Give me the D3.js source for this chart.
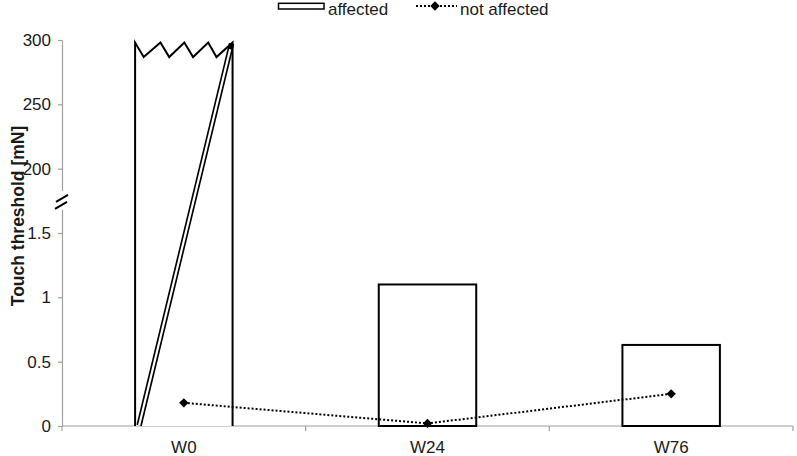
<!DOCTYPE html>
<html>
<head>
<meta charset="utf-8">
<script src="https://cdn.jsdelivr.net/npm/d3@7"></script>
<style>
  html, body { margin: 0; padding: 0; background: #fff; }
  svg { display: block; font-family: "Liberation Sans", Arial, sans-serif; }
</style>
</head>
<body>
<svg id="chart" width="797" height="456"></svg>
<script>
// ---- data ----
const categories = ["W0", "W24", "W76"];
const affected = [298, 1.1, 0.63];
const notAffected = [0.18, 0.02, 0.25];
const yTickValues = [0, 0.5, 1, 1.5, 200, 250, 300];
const yTickLabels = ["0", "0.5", "1", "1.5", "200", "250", "300"];
const seriesNames = ["affected", "not affected"];
const yTitle = "Touch threshold [mN]";

(function () {
// ---- layout ----
const svg = d3.select("#chart");
const mLeft = 62, mRight = 793, mBottom = 426, mTop = 40;
const textColor = "#1a1a1a", axisColor = "#a0a0a0";

// positions equally spaced per tick index (axis with a break between 1.5 and 200)
const idx = d3.scaleLinear().domain([0, yTickValues.length - 1]).range([mBottom, mTop]);
const y = d3.scaleLinear().domain(yTickValues).range(yTickValues.map((_, i) => idx(i)));
const x = d3.scaleBand().domain(categories).range([mLeft, mRight]).padding(0);
const bw = x.bandwidth() * 0.4;
const bx = c => x(c) + (x.bandwidth() - bw) / 2;
const cx = c => x(c) + x.bandwidth() / 2;

// ---- y axis ----
const yAxis = svg.append("g").attr("transform", `translate(${mLeft},0)`)
  .call(d3.axisLeft(y).tickValues(yTickValues)
    .tickFormat((d, i) => yTickLabels[i]).tickSize(4).tickSizeOuter(0).tickPadding(7));
yAxis.select(".domain").attr("stroke", axisColor).attr("stroke-width", 1.2);
yAxis.selectAll(".tick line").attr("stroke", axisColor).attr("stroke-width", 1.2);
yAxis.selectAll(".tick text").attr("fill", textColor).style("font-size", "17px");

// break in axis
const breakY = (y(1.5) + y(200)) / 2;
svg.append("rect").attr("x", mLeft - 3).attr("y", breakY - 10).attr("width", 6).attr("height", 19).attr("fill", "#fff");
[0, 7].forEach(o => {
  svg.append("line")
    .attr("x1", mLeft - 6 - (o ? 1 : 0)).attr("y1", breakY + 1 + o)
    .attr("x2", mLeft + 6 - (o ? 1 : 0)).attr("y2", breakY - 6 + o)
    .attr("stroke", "#000").attr("stroke-width", 2);
});

// y title
svg.append("text")
  .attr("transform", `translate(23.5,216) rotate(-90)`)
  .attr("text-anchor", "middle")
  .attr("fill", textColor)
  .style("font-size", "17.5px").style("font-weight", "bold")
  .text(yTitle);

// ---- x axis ----
svg.append("line").attr("x1", mLeft).attr("x2", mRight).attr("y1", mBottom).attr("y2", mBottom)
  .attr("stroke", axisColor).attr("stroke-width", 1.2);
const edges = categories.map(c => x(c)).concat([x(categories[categories.length - 1]) + x.bandwidth()]);
svg.selectAll(".xedge").data(edges).join("line").attr("class", "xedge")
  .attr("x1", d => d).attr("x2", d => d).attr("y1", mBottom).attr("y2", mBottom + 5)
  .attr("stroke", axisColor).attr("stroke-width", 1.2);
const xAxis = svg.append("g").attr("transform", `translate(0,${mBottom})`)
  .call(d3.axisBottom(x).tickSize(0).tickPadding(15));
xAxis.select(".domain").remove();
xAxis.selectAll(".tick text").attr("fill", textColor).style("font-size", "17px");

// ---- bars ----
const zig = [[0, 0], [0.088, 1], [0.26, 0], [0.35, 1], [0.505, 0], [0.595, 1], [0.75, 0], [0.835, 1], [1, 0]];
const depth = 14.5;
categories.forEach((c, i) => {
  const x0 = bx(c), yt = y(affected[i]);
  if (affected[i] >= 200) {
    let p = `M${x0},${mBottom}L${x0},${yt}`;
    zig.forEach(([f, v]) => { p += `L${x0 + f * bw},${yt + v * depth}`; });
    p += `L${x0 + bw},${mBottom}`;
    svg.append("path").attr("d", p).attr("fill", "#fff").attr("stroke", "#000").attr("stroke-width", 2).attr("stroke-linejoin", "miter");
    // double diagonal line (black band with white core)
    const p0 = [x0 + 4, mBottom - 0.5], p1 = [x0 + bw - 1, yt + 1];
    const lerp = t => [p0[0] + (p1[0] - p0[0]) * t, p0[1] + (p1[1] - p0[1]) * t];
    svg.append("line").attr("x1", p0[0]).attr("y1", p0[1]).attr("x2", p1[0]).attr("y2", p1[1])
      .attr("stroke", "#000").attr("stroke-width", 5.5);
    const q1 = lerp(0.985);
    svg.append("line").attr("x1", p0[0]).attr("y1", p0[1]).attr("x2", q1[0]).attr("y2", q1[1])
      .attr("stroke", "#fff").attr("stroke-width", 2.2);
  } else {
    svg.append("rect").attr("x", x0).attr("y", yt).attr("width", bw).attr("height", mBottom - yt)
      .attr("fill", "#fff").attr("stroke", "#000").attr("stroke-width", 2);
  }
});

// ---- line series ----
const line = d3.line().x((d, i) => cx(categories[i])).y(d => y(d));
svg.append("path").attr("d", line(notAffected)).attr("fill", "none")
  .attr("stroke", "#000").attr("stroke-width", 2).attr("stroke-dasharray", "2,2");
const diamond = d3.symbol(d3.symbolSquare, 44);
svg.selectAll(".pt").data(notAffected).join("path").attr("class", "pt")
  .attr("d", diamond)
  .attr("transform", (d, i) => `translate(${cx(categories[i])},${y(d)}) rotate(45)`)
  .attr("fill", "#000");

// ---- legend ----
const lg = svg.append("g");
lg.append("rect").attr("x", 278.5).attr("y", 3.3).attr("width", 45.5).attr("height", 5.7)
  .attr("fill", "#fff").attr("stroke", "#000").attr("stroke-width", 1.5);
lg.append("text").attr("x", 328).attr("y", 14.7).attr("fill", textColor).style("font-size", "17px").text(seriesNames[0]);
lg.append("line").attr("x1", 416).attr("x2", 457).attr("y1", 6).attr("y2", 6)
  .attr("stroke", "#000").attr("stroke-width", 2).attr("stroke-dasharray", "2,2");
lg.append("path").attr("d", diamond).attr("transform", "translate(435,6) rotate(45)").attr("fill", "#000");
lg.append("text").attr("x", 460).attr("y", 14.7).attr("fill", textColor).style("font-size", "17px").text(seriesNames[1]);
})();
</script>
</body>
</html>
